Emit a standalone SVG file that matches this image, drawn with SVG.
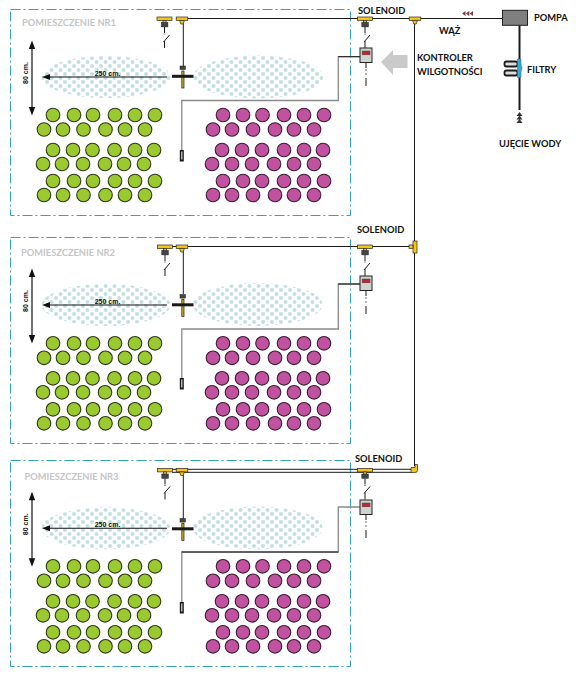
<svg xmlns="http://www.w3.org/2000/svg" width="579" height="675" viewBox="0 0 579 675">
<style>
.room{fill:none;stroke:#2fa5b8;stroke-width:1;stroke-dasharray:10 3 2 3}
.spray{fill:url(#dots)}
.g{fill:#9aca2f;stroke:#2e3a12;stroke-width:1.100}
.p{fill:#c0529f;stroke:#3e1a38;stroke-width:1.100}
.g,.p{r:6.800px}
.ln{fill:none;stroke:#1a1a1a;stroke-width:1}
.gw{fill:none;stroke:#8a8a8a;stroke-width:1.300}
.y{fill:#f5c41e;stroke:#2e2a10;stroke-width:.7}
.db{fill:#444;stroke:#222;stroke-width:.5}
.t{font-family:Lato,"Open Sans","Liberation Sans",sans-serif;font-weight:700;font-size:9.300px;fill:#111}
.rl{font-family:Lato,"Open Sans","Liberation Sans",sans-serif;font-weight:700;font-size:9.300px;fill:#c6c6c6}
.s{font-family:"Liberation Sans",sans-serif;font-weight:700;font-size:7px;fill:#111;text-anchor:middle}
.ah{fill:#111}
</style>
<defs>
<pattern id="dots" width="9" height="8" patternUnits="userSpaceOnUse">
<rect width="9" height="8" fill="#fff"/>
<circle cx="2" cy="2" r="2" fill="#c4dfe0"/><circle cx="6.500" cy="6" r="2" fill="#c4dfe0"/>
</pattern>
<g id="greens">
<circle class="g" cx="53" cy="115"/><circle class="g" cx="74" cy="115"/><circle class="g" cx="93" cy="115"/><circle class="g" cx="115" cy="115"/><circle class="g" cx="135" cy="115"/><circle class="g" cx="155" cy="115"/>
<circle class="g" cx="44" cy="129.500"/><circle class="g" cx="63" cy="129.500"/><circle class="g" cx="83.500" cy="129.500"/><circle class="g" cx="105.500" cy="129.500"/><circle class="g" cx="125" cy="129.500"/><circle class="g" cx="145" cy="129.500"/>
<circle class="g" cx="53" cy="150"/><circle class="g" cx="73" cy="150"/><circle class="g" cx="92.500" cy="150"/><circle class="g" cx="114.500" cy="150"/><circle class="g" cx="135" cy="150"/><circle class="g" cx="154" cy="150"/>
<circle class="g" cx="43" cy="164"/><circle class="g" cx="62" cy="164"/><circle class="g" cx="83" cy="164"/><circle class="g" cx="105" cy="164"/><circle class="g" cx="124" cy="164"/><circle class="g" cx="144" cy="164"/>
<circle class="g" cx="53" cy="181"/><circle class="g" cx="74" cy="181"/><circle class="g" cx="93" cy="181"/><circle class="g" cx="115" cy="181"/><circle class="g" cx="135" cy="181"/><circle class="g" cx="155" cy="181"/>
<circle class="g" cx="44" cy="195"/><circle class="g" cx="63" cy="195"/><circle class="g" cx="83.500" cy="195"/><circle class="g" cx="105.500" cy="195"/><circle class="g" cx="125" cy="195"/><circle class="g" cx="145" cy="195"/>
</g>
<g id="purples">
<circle class="p" cx="223" cy="115"/><circle class="p" cx="243" cy="115"/><circle class="p" cx="262.500" cy="115"/><circle class="p" cx="284" cy="115"/><circle class="p" cx="304" cy="115"/><circle class="p" cx="324" cy="115"/>
<circle class="p" cx="213" cy="129.500"/><circle class="p" cx="232" cy="129.500"/><circle class="p" cx="253" cy="129.500"/><circle class="p" cx="275" cy="129.500"/><circle class="p" cx="294" cy="129.500"/><circle class="p" cx="314" cy="129.500"/>
<circle class="p" cx="222" cy="150"/><circle class="p" cx="242" cy="150"/><circle class="p" cx="262" cy="150"/><circle class="p" cx="284" cy="150"/><circle class="p" cx="304" cy="150"/><circle class="p" cx="323" cy="150"/>
<circle class="p" cx="212" cy="164"/><circle class="p" cx="232" cy="164"/><circle class="p" cx="252" cy="164"/><circle class="p" cx="274" cy="164"/><circle class="p" cx="294" cy="164"/><circle class="p" cx="314" cy="164"/>
<circle class="p" cx="223" cy="181"/><circle class="p" cx="243" cy="181"/><circle class="p" cx="262" cy="181"/><circle class="p" cx="284" cy="181"/><circle class="p" cx="304" cy="181"/><circle class="p" cx="324" cy="181"/>
<circle class="p" cx="213" cy="195"/><circle class="p" cx="232" cy="195"/><circle class="p" cx="253" cy="195"/><circle class="p" cx="275" cy="195"/><circle class="p" cx="294" cy="195"/><circle class="p" cx="314" cy="195"/>
</g>
<g id="valve">
<rect class="y" x="-7.500" y="-1" width="15" height="3.400"/>
<rect class="y" x="-1.600" y="2.400" width="3.200" height="2.600"/>
<rect class="db" x="-3.200" y="4.500" width="6.600" height="4.400"/>
<path class="ln" d="M0 9V15M0 23V30M5 17L-1 24"/>
<path d="M0 15.500V16.500" stroke="#999" stroke-width="2" fill="none"/>
</g>
<g id="tee">
<rect class="y" x="-5.800" y="-1" width="11.600" height="3.400"/>
<path class="y" d="M-2.400 2.400H2.400L1.200 6H-1.200Z"/>
</g>
<g id="spray">
<rect class="db" x="-3" y="0" width="5.500" height="3.600"/>
<rect x="-1.200" y="5" width="2.200" height="17" fill="#c9a52a" stroke="#222" stroke-width=".7"/>
<rect x="-11" y="8.800" width="21.500" height="3" fill="#1a1a1a"/>
</g>
<g id="ctrl">
<rect x="0" y="0" width="12" height="14.500" fill="#d2d2d2" stroke="#222" stroke-width="1"/>
<rect x="2.200" y="3" width="7.800" height="3.800" fill="#c8202f" stroke="#444" stroke-width=".5"/>
<path class="ln" d="M6 14.500V20M6 30V38"/>
<path d="M6 21V29" fill="none" stroke="#888" stroke-width="1.200" stroke-dasharray="2 2"/>
</g>
<g id="arrows">
<path d="M32 43V113" fill="none" stroke="#111" stroke-width="1.200"/>
<path class="ah" d="M32 40.500L28.800 49H35.200ZM32 115.500L28.800 107H35.200Z"/>
<path d="M48 77H167" fill="none" stroke="#111" stroke-width="1.100"/>
<path class="ah" d="M42 77L50 74V80Z"/>
<text class="s" x="107.500" y="75.500">250 cm.</text>
<text class="s" transform="translate(27.500 73) rotate(-90)">80 cm.</text>
</g>
<g id="sensor">
<rect x="-2" y="0" width="4" height="11.500" fill="#1a1a1a"/>
<rect x="-.6" y="1.500" width="1.200" height="8" fill="#ddd"/>
</g>
</defs>
<rect width="579" height="675" fill="#fff"/>

<g id="room1">
<rect class="room" x="10.500" y="9.500" width="340" height="206"/>
<ellipse class="spray" cx="106" cy="77" rx="64.500" ry="21"/>
<ellipse class="spray" cx="258" cy="77" rx="65" ry="21.500"/>
<use href="#greens"/><use href="#purples"/>
<use href="#arrows"/>
<text class="rl" x="22" y="26">POMIESZCZENIE NR1</text>
</g>
<g id="room2">
<rect class="room" x="10.500" y="237.500" width="340" height="206"/>
<ellipse class="spray" cx="106" cy="305" rx="64.500" ry="21"/>
<ellipse class="spray" cx="257.500" cy="304.500" rx="65" ry="21.500"/>
<use href="#greens" transform="translate(0 228.300)"/><use href="#purples" transform="translate(0 228.300)"/>
<use href="#arrows" transform="translate(0 228)"/>
<text class="rl" x="21" y="256">POMIESZCZENIE NR2</text>
</g>
<g id="room3">
<rect class="room" x="10.500" y="460.500" width="340" height="206"/>
<ellipse class="spray" cx="106" cy="528.300" rx="64.500" ry="21"/>
<ellipse class="spray" cx="257.500" cy="528" rx="65" ry="21.500"/>
<use href="#greens" transform="translate(0 451.300)"/><use href="#purples" transform="translate(0 451.300)"/>
<use href="#arrows" transform="translate(0 451.300)"/>
<text class="rl" x="24.500" y="480">POMIESZCZENIE NR3</text>
</g>

<g id="connectors">
<path class="ln" d="M176 18.500H502"/>
<path class="ln" d="M414.500 20V466"/>
<path class="ln" d="M172 246.500H413"/>
<path class="ln" d="M172 469.300H412M172 472.300H412"/>
<path class="ln" d="M183.300 20V66M183.300 248V294M183.300 472V519"/>
<path d="M360 56.700H338.300V100.500H181.800V150" class="gw"/>
<path d="M360 56.700H338.300" class="ln"/>
<path d="M360 284H338.300V329H181.800V378" class="gw"/>
<path d="M360 284H338.300" class="ln"/>
<path d="M360 507H338.300V552H181.800V602" class="gw"/>
<path d="M338.300 552H181.800" class="ln"/>
<path d="M519.500 25V110" fill="none" stroke="#1a1a1a" stroke-width="2"/>
</g>

<g id="valves-room1"><use href="#valve" x="164.500" y="18"/><use href="#tee" x="182" y="18"/><use href="#spray" x="183" y="66"/><use href="#sensor" x="181.800" y="150"/></g>
<g id="valves-room2"><use href="#valve" x="165" y="246"/><use href="#tee" x="182" y="246"/><use href="#spray" x="183" y="294.500"/><use href="#sensor" x="181.800" y="378"/></g>
<g id="valves-room3"><use href="#valve" x="165" y="469.500"/><use href="#tee" x="182" y="469.500"/><use href="#spray" x="183" y="518.500"/><use href="#sensor" x="181.800" y="602"/></g>

<g id="solenoid1"><use href="#valve" x="365" y="18"/><text class="t" x="358" y="14">SOLENOID</text></g>
<g id="solenoid2"><use href="#valve" x="365" y="246"/><text class="t" x="357" y="232.500">SOLENOID</text></g>
<g id="solenoid3"><use href="#valve" x="365" y="469.500"/><text class="t" x="355" y="461.500">SOLENOID</text></g>

<g id="controller1"><use href="#ctrl" x="360" y="48"/></g>
<g id="controller2"><use href="#ctrl" x="360" y="276"/></g>
<g id="controller3"><use href="#ctrl" x="360" y="500"/></g>

<g id="junction1"><use href="#tee" x="415" y="18"/></g>
<g id="junction2"><rect class="y" x="413" y="241" width="4" height="12"/><rect class="y" x="409" y="245" width="4" height="3.400"/></g>
<g id="junction3"><path class="y" d="M411 467.500H415V464.500H417.500V470.500Q417.500 472.500 415 472.500H411Z"/></g>

<g id="humidity-arrow">
<polygon points="381,62 393,50 393,55 407.500,55 407.500,68 393,68 393,75" fill="#cacaca"/>
<text class="t" x="417" y="61">KONTROLER</text>
<text class="t" x="417" y="75">WILGOTNOŚCI</text>
</g>

<g id="hose">
<path d="M462 13.500L465.500 11V16ZM465.800 13.500L469.300 11V16ZM469.500 13.500L473 11V16Z" fill="#7d3f45"/>
<text class="t" x="439" y="34">WĄŻ</text>
</g>

<g id="pump">
<rect x="502.500" y="10.300" width="25" height="15" fill="#7f7f7f" stroke="#222" stroke-width="1"/>
<text class="t" x="534" y="21">POMPA</text>
</g>

<g id="filters">
<rect x="504.500" y="61.500" width="13" height="5" rx="2" fill="#ddd" stroke="#1a1a1a" stroke-width="1.800"/>
<rect x="504.500" y="70.500" width="13" height="5" rx="2" fill="#ddd" stroke="#1a1a1a" stroke-width="1.800"/>
<path d="M517.500 59H521V64L522 68L521 72V77.500H517.500Z" fill="#3aa6d8" stroke="#1c6c92" stroke-width=".5"/>
<text class="t" x="527" y="73">FILTRY</text>
</g>

<g id="intake">
<path d="M519.500 112L516.500 116H522.500ZM519.500 115.500L516.500 119.500H522.500ZM519.500 119L516.500 123H522.500Z" fill="#333"/>
<text class="t" x="499" y="147">UJĘCIE WODY</text>
</g>
</svg>
